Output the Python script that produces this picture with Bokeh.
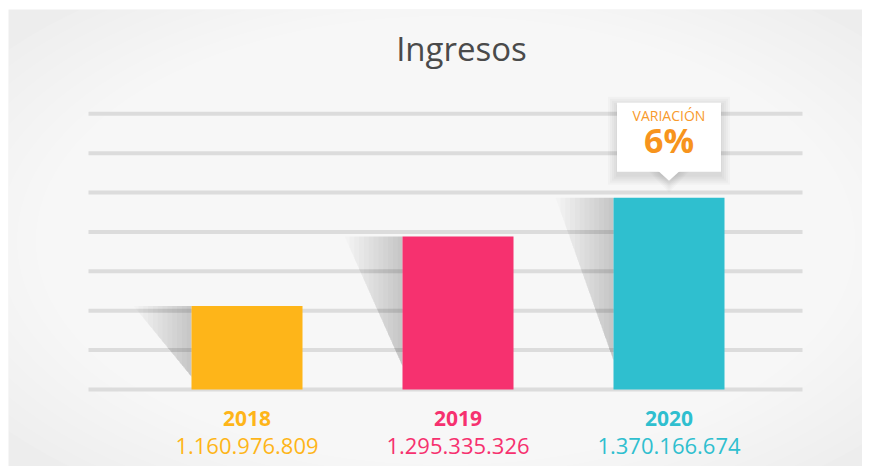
from bokeh.plotting import figure
from bokeh.models import Range1d
from bokeh.core.properties import value
from bokeh.embed import file_html
from bokeh.resources import INLINE

# ---------------- data ----------------
years = ["2018", "2019", "2020"]
ingresos = [1160976809, 1295335326, 1370166674]
colors = ["#feb519", "#f6316f", "#2fbfcf"]
title_text = "Ingresos"
variation_label = "VARIACIÓN"
AXIS_START = 1_000_000_000      # value at the bar baseline
GRID_STEP = 76_000_000          # spacing of the horizontal guide lines
N_GRID = 8

# ---------------- layout (screen geometry) ----------------
W, H = 862, 466
FL, FT = 8, 9                    # frame offset inside the canvas
PX_PER_X = 211.0                 # px per category step
Y_PER_PX = 1.93e6                # value units per px
X0 = 246.5                       # x of first category centre
BASE_Y = 389.0                   # y of the baseline
BAR_W_PX = 111

def px_x(sx):
    return (sx - X0) / PX_PER_X

def px_y(sy):
    return AXIS_START + (BASE_Y - sy) * Y_PER_PX

def dx(px):
    return px / PX_PER_X

def dy(px):
    return px * Y_PER_PX

p = figure(width=W, height=H, output_backend="svg", toolbar_location=None,
           x_range=Range1d(px_x(FL), px_x(W)),
           y_range=Range1d(px_y(H), px_y(FT)),
           min_border=0, min_border_left=FL, min_border_top=FT,
           background_fill_color="#ededed",
           border_fill_color="white", outline_line_color=None)
p.axis.visible = False
p.grid.visible = False

# background radial glow
N_E = 24
cx, cy = px_x(445), px_y(240)
for k in range(N_E):
    f = 1 - k / N_E
    p.ellipse(x=cx, y=cy, width=dx(220 + 900 * f), height=dy(130 + 480 * f),
              fill_color="white", fill_alpha=0.11, line_color=None)

# guide lines
gx0, gx1 = px_x(88), px_x(802)
gy = [AXIS_START + k * GRID_STEP for k in range(N_GRID)]
p.segment(x0=[gx0] * N_GRID, x1=[gx1] * N_GRID, y0=gy, y1=gy,
          line_color="#dcdcdc", line_width=4)

# bar shadows (stacked translucent slices, darker near the bar)
half = dx(BAR_W_PX) / 2
SW = dx(58)
NS = 12
xs, ys = [], []
for i, v in enumerate(ingresos):
    bx = i - half
    sh = 0.85 * (v - AXIS_START)
    for k in range(1, NS + 1):
        f = k / NS
        xs.append([bx - SW * f, bx, bx, bx - SW * f])
        ys.append([v, v, v - sh, v - sh * (1 - f)])
p.patches(xs=xs, ys=ys, fill_color="black", fill_alpha=0.015, line_color=None)

# bars
idx = list(range(len(years)))
p.vbar(x=idx, top=ingresos, bottom=AXIS_START, width=dx(BAR_W_PX),
       fill_color=colors, line_color=None)

# category labels (y = vertical centre of the capitals)
label_y = px_y(417.5)
value_y = px_y(445)
p.text(x=idx, y=[label_y] * 3, text=years, text_color=colors,
       text_font=value("Open Sans"), text_font_style="bold",
       text_font_size="21px", text_align="center", text_baseline="middle")
p.text(x=idx, y=[value_y] * 3, text=[f"{v:,}".replace(",", ".") for v in ingresos],
       text_color=colors, text_font=value("Open Sans"),
       text_font_size="22px", text_align="center", text_baseline="middle")

# title
p.text(x=[px_x(461)], y=[px_y(47.5)], text=[title_text], text_color="#4a4a4a",
       text_font=value("Open Sans"), text_font_size="33px",
       text_align="center", text_baseline="middle")

# variation callout above last bar
var_pct = round((ingresos[-1] / ingresos[-2] - 1) * 100)
last = len(ingresos) - 1
top_last = ingresos[-1]
b_bottom = top_last + dy(26)
b_top = b_bottom + dy(69)
b_left, b_right = last - dx(52), last + dx(52)
# soft shadow
for k in range(5):
    g = 1 + 2 * k
    p.quad(left=b_left - dx(g), right=b_right + dx(g),
           top=b_top + dy(g) - dy(3), bottom=b_bottom - dy(g) - dy(4),
           fill_color="black", fill_alpha=0.025, line_color=None)
    p.patch(x=[last - dx(11 + g), last + dx(11 + g), last],
            y=[b_bottom, b_bottom, b_bottom - dy(9 + g) - dy(3)],
            fill_color="black", fill_alpha=0.02, line_color=None)
p.quad(left=b_left, right=b_right, top=b_top, bottom=b_bottom,
       fill_color="white", line_color=None)
p.patch(x=[last - dx(11), last + dx(11), last],
        y=[b_bottom + dy(1), b_bottom + dy(1), b_bottom - dy(9)],
        fill_color="white", line_color=None)
p.text(x=[last], y=[b_bottom + dy(56.7)], text=[variation_label],
       text_color="#f89a2c", text_font=value("Open Sans"), text_font_size="14px",
       text_align="center", text_baseline="middle")
p.text(x=[last], y=[b_bottom + dy(31.5)], text=[f"{var_pct}%"],
       text_color="#f7941d", text_font=value("Open Sans"), text_font_style="bold",
       text_font_size="34px", text_align="center", text_baseline="middle")

open("out.html", "w").write(file_html(p, INLINE))
